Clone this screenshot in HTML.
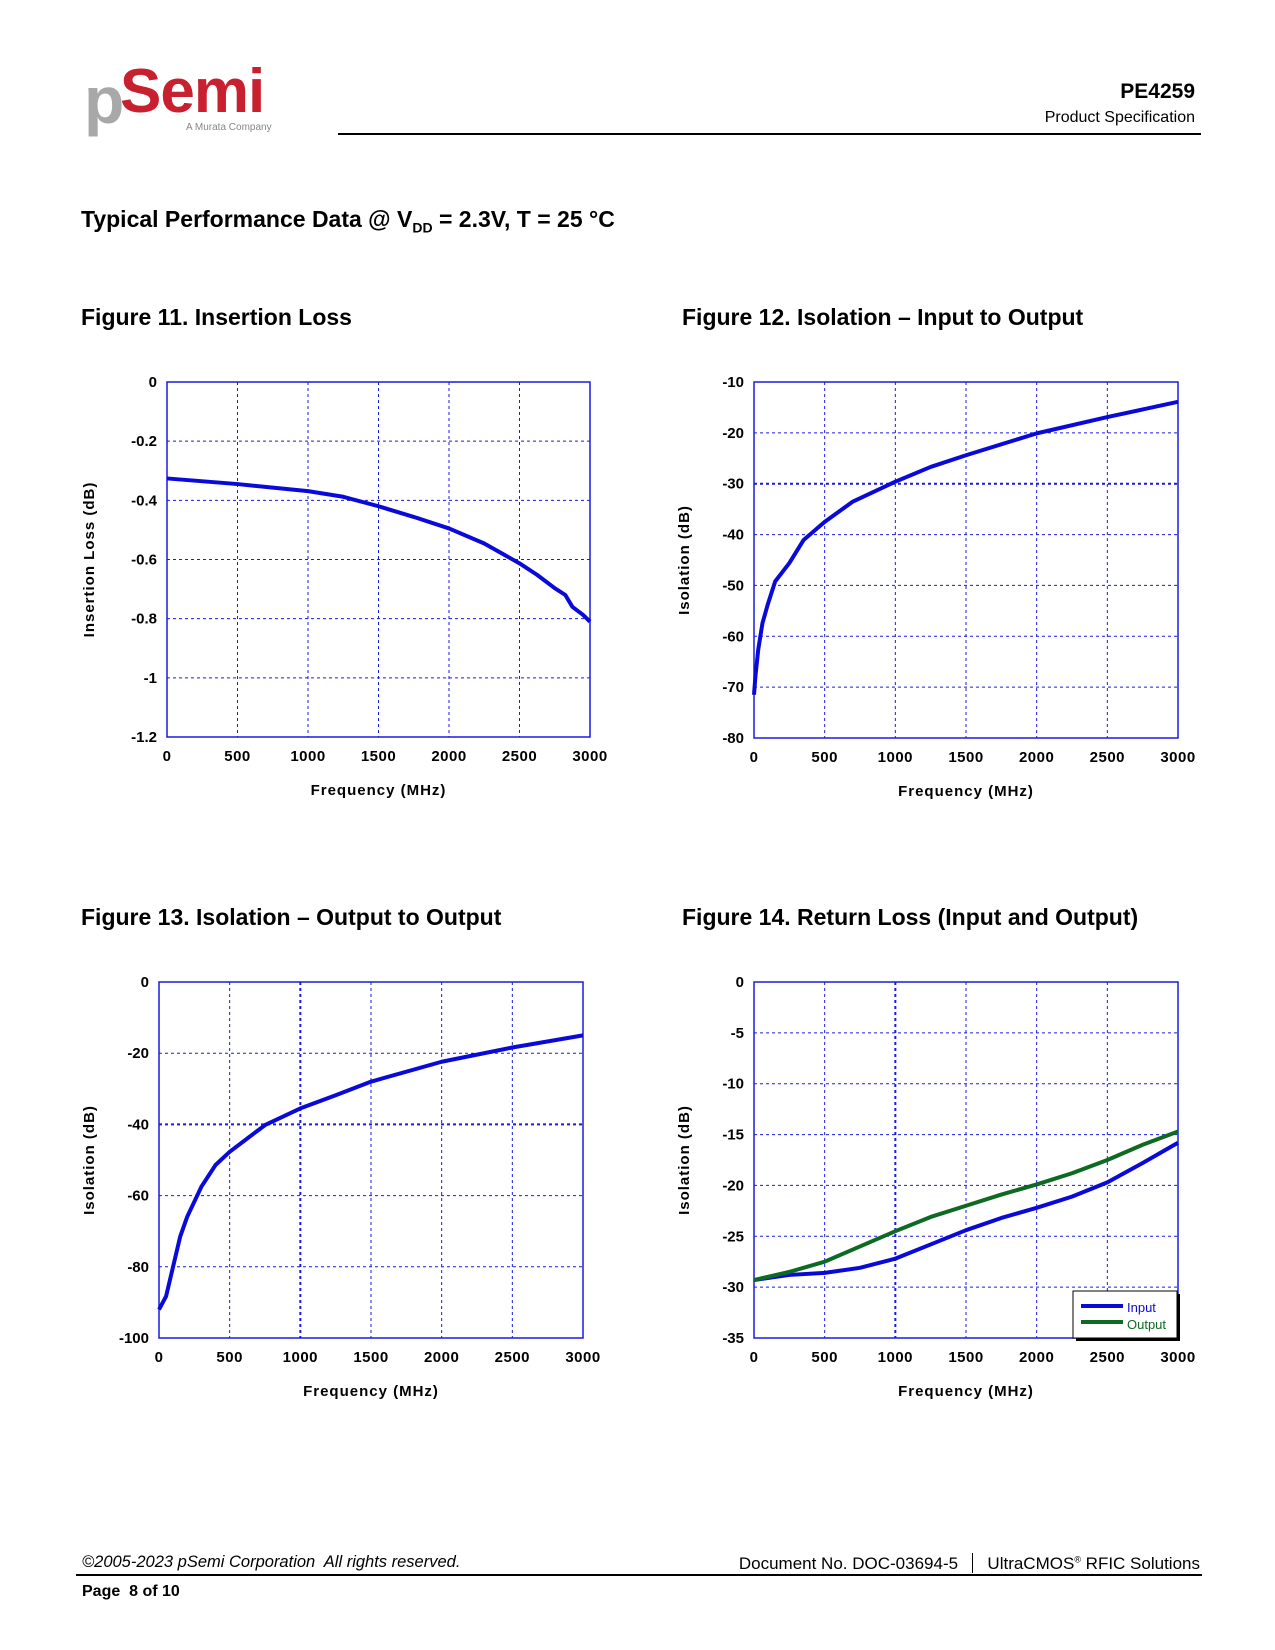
<!DOCTYPE html>
<html><head><meta charset="utf-8">
<style>
body{margin:0;background:#fff;}
#page{position:relative;width:1275px;height:1650px;overflow:hidden;font-family:"Liberation Sans",Arial,sans-serif;color:#000;}
.abs{position:absolute;white-space:nowrap;}
</style></head>
<body>
<div id="page">
  <div class="abs" style="left:74px;top:58px;width:215px;height:82px;">
    <span class="abs" style="left:10px;top:4px;font-size:66px;font-weight:bold;color:#a8a8a8;">p</span>
    <span class="abs" style="left:46px;top:-2px;font-size:62px;font-weight:bold;color:#c8202f;letter-spacing:-1px;">Semi</span>
    <span class="abs" style="left:112px;top:64px;font-size:10px;color:#888;">A Murata Company</span>
  </div>
  <div class="abs" style="right:80px;top:80px;font-size:21px;font-weight:bold;">PE4259</div>
  <div class="abs" style="right:80px;top:109px;font-size:16px;">Product Specification</div>
  <div class="abs" style="left:338px;top:133px;width:863px;height:2px;background:#000;"></div>

  <div class="abs" style="left:81px;top:206px;font-size:23px;font-weight:bold;">Typical Performance Data @ V<sub style="font-size:14px;">DD</sub> = 2.3V, T = 25 °C</div>

  <div class="abs" style="left:81px;top:304px;font-size:23px;font-weight:bold;">Figure 11. Insertion Loss</div>
  <div class="abs" style="left:682px;top:304px;font-size:23px;font-weight:bold;">Figure 12. Isolation – Input to Output</div>
  <div class="abs" style="left:81px;top:904px;font-size:23px;font-weight:bold;">Figure 13. Isolation – Output to Output</div>
  <div class="abs" style="left:682px;top:904px;font-size:23px;font-weight:bold;">Figure 14. Return Loss (Input and Output)</div>

  <svg id="charts" class="abs" style="left:0;top:0;" width="1275" height="1650"></svg>

  <div class="abs" style="left:82px;top:1553px;font-size:16.5px;font-style:italic;">©2005-2023 pSemi Corporation&nbsp; All rights reserved.</div>
  <div class="abs" style="right:75px;top:1553px;font-size:17px;">Document No. DOC-03694-5 &nbsp;&nbsp;<span style="display:inline-block;width:1px;height:20px;background:#000;vertical-align:-4px;"></span>&nbsp;&nbsp; UltraCMOS<sup style="font-size:9px;">®</sup> RFIC Solutions</div>
  <div class="abs" style="left:76px;top:1574px;width:1126px;height:2px;background:#000;"></div>
  <div class="abs" style="left:82px;top:1583px;font-size:16px;font-weight:bold;">Page&nbsp; 8 of 10</div>
</div>
<script>
const xTicks = [0,500,1000,1500,2000,2500,3000];

const il_freq = [0,500,1000,1250,1500,1750,2000,2250,2500,2625,2750,2825,2875,2950,3000];
const il_vals = [-0.326,-0.345,-0.369,-0.388,-0.42,-0.456,-0.495,-0.546,-0.613,-0.652,-0.697,-0.72,-0.76,-0.787,-0.81];
const il_yTicks = [0,-0.2,-0.4,-0.6,-0.8,-1,-1.2];
const il_yLabels = ["0","-0.2","-0.4","-0.6","-0.8","-1","-1.2"];

const iso_io_freq = [0,10,30,60,100,150,250,350,500,700,1000,1250,1500,2000,2500,3000];
const iso_io_vals = [-71.5,-67.9,-62.6,-57.4,-53.5,-49.2,-45.6,-41.1,-37.5,-33.5,-29.6,-26.7,-24.4,-20.1,-16.9,-13.9];
const iso_io_yTicks = [-10,-20,-30,-40,-50,-60,-70,-80];

const iso_oo_freq = [0,50,100,150,200,300,400,500,750,1000,1250,1500,2000,2500,3000];
const iso_oo_vals = [-92,-88.3,-79.9,-71.5,-65.9,-57.5,-51.4,-47.7,-40.2,-35.5,-31.8,-28,-22.4,-18.4,-15];
const iso_oo_yTicks = [0,-20,-40,-60,-80,-100];

const rl_freq = [0,250,500,750,1000,1250,1500,1750,2000,2250,2500,2750,3000];
const rl_input = [-29.3,-28.8,-28.6,-28.1,-27.2,-25.8,-24.4,-23.2,-22.2,-21.1,-19.7,-17.8,-15.8];
const rl_output = [-29.3,-28.5,-27.5,-26.0,-24.5,-23.1,-22.0,-20.9,-19.9,-18.8,-17.5,-16.0,-14.7];
const rl_yTicks = [0,-5,-10,-15,-20,-25,-30,-35];

const NS = "http://www.w3.org/2000/svg";
const svg = document.getElementById('charts');
function mk(tag, attrs, parent){const e=document.createElementNS(NS,tag);for(const k in attrs)e.setAttribute(k,attrs[k]);(parent||svg).appendChild(e);return e;}

function drawChart(cfg){
  const g = mk('g',{});
  
  
  const L=cfg.l,R=cfg.r,T=cfg.t,B=cfg.b;
  const ymax=cfg.yTicks[0], ymin=cfg.yTicks[cfg.yTicks.length-1];
  const sx=v=>L+(v-0)/(3000-0)*(R-L);
  const sy=v=>T+(ymax-v)/(ymax-ymin)*(B-T);
  cfg.yTicks.forEach((v,i)=>{
    if(i>0&&i<cfg.yTicks.length-1){
      const ln=mk('line',{x1:L,x2:R,y1:sy(v),y2:sy(v),stroke:'#1a1ae0','stroke-width':(cfg.boldY===v?2:1),'stroke-dasharray':'3,3'},g);
      
      
    }
    const t=mk('text',{x:L-10,y:sy(v)+5,'text-anchor':'end','font-size':15,'font-weight':'bold','font-family':'Liberation Sans, sans-serif'},g);
    t.textContent = cfg.yLabels?cfg.yLabels[i]:String(v);
    
    
  });
  xTicks.forEach((v,i)=>{
    if(i>0&&i<xTicks.length-1){
      const ln=mk('line',{x1:sx(v),x2:sx(v),y1:T,y2:B,stroke:'#1a1ae0','stroke-width':(cfg.boldX===v?2:1),'stroke-dasharray':'3,3'},g);
      
      
    }
    const t=mk('text',{x:sx(v),y:B+24,'text-anchor':'middle','font-size':15,'font-weight':'bold','letter-spacing':'0.5','font-family':'Liberation Sans, sans-serif'},g);
    t.textContent = String(v);
    
    
  });
  const fr=mk('rect',{x:L,y:T,width:R-L,height:B-T,fill:'none',stroke:'#1a1ae0','stroke-width':1.5},g);
  
  
  cfg.series.forEach(s=>{
    const p=mk('polyline',{points:s.x.map((f,i)=>sx(f)+','+sy(s.y[i])).join(' '),fill:'none',stroke:s.color,'stroke-width':4,'stroke-linejoin':'round'},g);
    
    
  });
  const xt=mk('text',{x:(L+R)/2,y:B+58,'text-anchor':'middle','font-size':15,'font-weight':'bold','letter-spacing':'1','font-family':'Liberation Sans, sans-serif'},g);
  xt.textContent='Frequency (MHz)';
  
  
  const yx=cfg.yTitleX, yc=(T+B)/2;
  const yt=mk('text',{x:yx,y:yc,'text-anchor':'middle','font-size':15,'font-weight':'bold','letter-spacing':'1','font-family':'Liberation Sans, sans-serif',transform:'rotate(-90 '+yx+' '+yc+')'},g);
  yt.textContent=cfg.yTitle;
  
  
  return g;
}

drawChart({name:'insertion-loss-chart',l:167,r:590,t:382,b:737,yTicks:il_yTicks,yLabels:il_yLabels,yTitle:'Insertion Loss (dB)',yTitleX:94,
  series:[{name:'insertion-loss-line',x:il_freq,y:il_vals,color:'#0a0ad8'}]});
drawChart({name:'isolation-input-output-chart',l:754,r:1178,t:382,b:738,yTicks:iso_io_yTicks,boldY:-30,yTitle:'Isolation (dB)',yTitleX:689,
  series:[{name:'isolation-io-line',x:iso_io_freq,y:iso_io_vals,color:'#0a0ad8'}]});
drawChart({name:'isolation-output-output-chart',l:159,r:583,t:982,b:1338,yTicks:iso_oo_yTicks,boldY:-40,boldX:1000,yTitle:'Isolation (dB)',yTitleX:94,
  series:[{name:'isolation-oo-line',x:iso_oo_freq,y:iso_oo_vals,color:'#0a0ad8'}]});
const rl=drawChart({name:'return-loss-chart',l:754,r:1178,t:982,b:1338,yTicks:rl_yTicks,boldX:1000,yTitle:'Isolation (dB)',yTitleX:689,
  series:[{name:'input-return-loss-line',x:rl_freq,y:rl_input,color:'#0a0ad8'},{name:'output-return-loss-line',x:rl_freq,y:rl_output,color:'#0e6a22'}]});

const lg=mk('g',{},rl);


mk('rect',{x:1076,y:1294,width:104,height:47,fill:'#000'},lg);
mk('rect',{x:1073,y:1291,width:104,height:47,fill:'#fff',stroke:'#000','stroke-width':1},lg);
mk('line',{x1:1081,x2:1123,y1:1306,y2:1306,stroke:'#0a0ad8','stroke-width':4},lg);
mk('line',{x1:1081,x2:1123,y1:1322,y2:1322,stroke:'#0e6a22','stroke-width':4},lg);
const li=mk('text',{x:1127,y:1312,'font-size':13,fill:'#0a0ad8','font-family':'Liberation Sans, sans-serif'},lg);
li.textContent='Input';


const lo=mk('text',{x:1127,y:1329,'font-size':13,fill:'#0e6a22','font-family':'Liberation Sans, sans-serif'},lg);
lo.textContent='Output';


</script>
</body></html>
